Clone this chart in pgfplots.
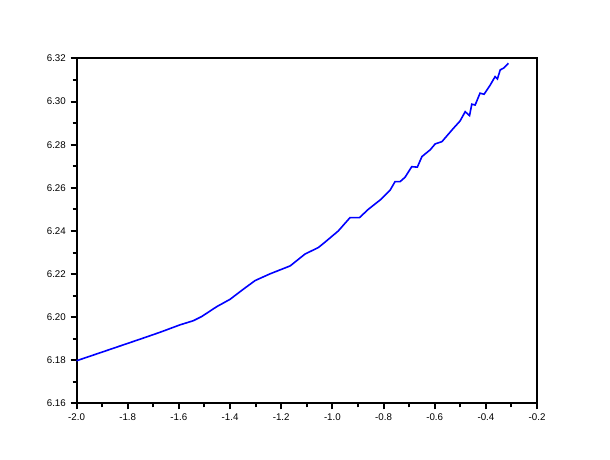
\documentclass[border=0pt]{standalone}
\usepackage{pgfplots}
\pgfplotsset{compat=1.18}
\usepackage{fontspec}
\setmainfont{Liberation Sans}
\begin{document}
\begin{tikzpicture}
\path[use as bounding box] (0,0) rectangle (457.5pt,345pt);
\begin{axis}[
  at={(57.4pt,42.4pt)}, anchor=south west,
  scale only axis, width=345.4pt, height=258.75pt,
  xmin=-2.0, xmax=-0.2, ymin=6.16, ymax=6.32,
  xtick={-2.0,-1.8,...,-0.19}, ytick={6.16,6.18,...,6.321},
  minor tick num=1,
  tick align=outside,
  xtick pos=bottom, ytick pos=left,
  major tick length=4.5pt, minor tick length=3pt,
  axis line style={line width=1.5pt},
  every tick/.style={black, line width=1.5pt},
  tick label style={font=\fontsize{7.3}{8}\selectfont},
  /pgf/number format/assume math mode=true,
  xticklabel style={/pgf/number format/.cd, fixed, fixed zerofill, precision=1},
  yticklabel style={/pgf/number format/.cd, fixed, fixed zerofill, precision=2},
  scaled ticks=false,
  clip=false,
]
\addplot[color={rgb,255:red,0;green,0;blue,255}, line width=1.2pt] coordinates {
(-2.000,6.1798) (-1.752,6.1898) (-1.674,6.1930) (-1.597,6.1964) (-1.543,6.1984)
(-1.511,6.2003) (-1.452,6.2049) (-1.400,6.2083) (-1.348,6.2130) (-1.302,6.2170)
(-1.244,6.2201) (-1.165,6.2238) (-1.107,6.2293) (-1.055,6.2323) (-1.029,6.2348)
(-0.977,6.2400) (-0.931,6.2462) (-0.894,6.2462) (-0.859,6.2501) (-0.813,6.2544)
(-0.774,6.2590) (-0.755,6.2629) (-0.735,6.2629) (-0.716,6.2649) (-0.690,6.2698)
(-0.668,6.2696) (-0.650,6.2745) (-0.618,6.2776) (-0.598,6.2804) (-0.572,6.2814)
(-0.527,6.2876) (-0.501,6.2910) (-0.481,6.2953) (-0.464,6.2935) (-0.455,6.2988)
(-0.442,6.2984) (-0.423,6.3039) (-0.407,6.3034) (-0.383,6.3077) (-0.364,6.3116)
(-0.355,6.3105) (-0.344,6.3147) (-0.331,6.3155) (-0.312,6.3178)
};
\end{axis}
\end{tikzpicture}
\end{document}
